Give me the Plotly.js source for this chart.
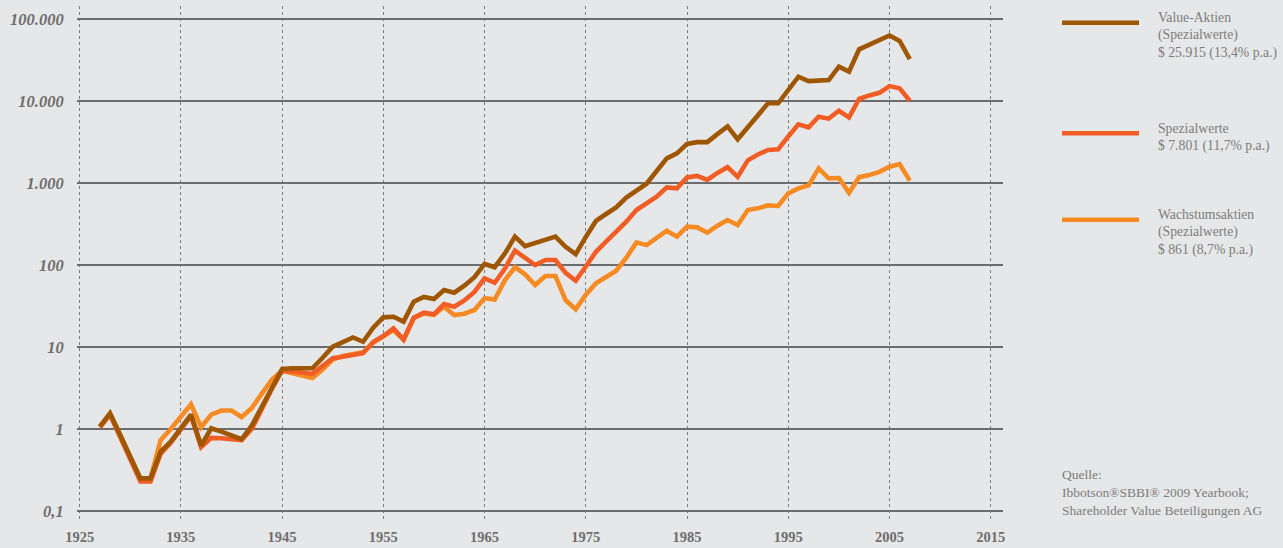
<!DOCTYPE html>
<html>
<head>
<meta charset="utf-8">
<script src="https://cdn.plot.ly/plotly-3.0.1.min.js"></script>
<style>
html,body{margin:0;padding:0;background:#e6e7e8;}
#chart{width:1283px;height:548px;}
</style>
</head>
<body>
<div id="chart"></div>
<script>
// ---- data ----
const years = [1927,1928,1929,1930,1931,1932,1933,1934,1935,1936,1937,1938,1939,1940,1941,1942,1943,1944,1945,1946,
  1947,1948,1949,1950,1951,1952,1953,1954,1955,1956,1957,1958,1959,1960,1961,1962,1963,1964,1965,1966,
  1967,1968,1969,1970,1971,1972,1973,1974,1975,1976,1977,1978,1979,1980,1981,1982,1983,1984,1985,1986,
  1987,1988,1989,1990,1991,1992,1993,1994,1995,1996,1997,1998,1999,2000,2001,2002,2003,2004,2005,2006,2007];

const valueAktien = [1.07,1.55,0.85,0.45,0.25,0.25,0.53,0.70,1.05,1.50,0.63,1.02,0.93,0.83,0.75,1.10,1.90,3.20,5.40,5.50,
  5.50,5.50,7.4,10.1,11.5,13.1,11.6,17.2,23.0,23.4,20.4,35.7,40.8,38.5,49.6,46.0,56,71,103,94,
  138,222,170,185,200,222,167,136,220,345,419,505,665,805,980,1400,2000,2300,3000,3150,
  3150,3950,4900,3410,4780,6650,9380,9380,13400,19800,17500,17900,18000,26200,22800,42700,48200,54400,63000,54000,32500];

const spezialwerte = [1.05,1.50,0.80,0.42,0.23,0.23,0.50,0.68,1.00,1.45,0.60,0.78,0.77,0.75,0.73,1.00,1.80,3.10,5.15,5.05,
  4.90,4.70,5.8,7.3,7.6,8.1,8.4,11.5,13.6,16.9,12.3,22.8,26.2,25.0,33.5,31.0,37.0,47.0,68.8,60.8,
  90,150,123,100,115,115,80.5,64.4,96,145,193,255,338,469,570,681,885,861,1170,1220,
  1090,1330,1560,1190,1890,2230,2530,2580,3700,5190,4780,6440,6100,7620,6320,10600,11700,12600,15200,14300,10100];

const wachstum = [1.07,1.55,0.84,0.45,0.25,0.25,0.73,1.00,1.40,2.00,1.05,1.50,1.68,1.68,1.40,1.80,2.70,4.00,5.15,4.80,
  4.50,4.20,5.3,7.0,7.8,8.3,8.6,11.3,13.4,16.1,12.3,22.4,25.7,24.7,31.0,24.6,25.5,28.3,39.5,37.9,
  65,94,77,57,73.4,73.4,37.4,28.8,43.5,59.8,71.4,85.3,123,189,175,211,262,222,294,288,
  248,302,354,307,469,491,534,525,749,861,936,1510,1140,1150,760,1180,1250,1370,1580,1700,1070];

const seriesNames = ['Value-Aktien (Spezialwerte)', 'Spezialwerte', 'Wachstumsaktien (Spezialwerte)'];
const yTickVals = [0.1, 1, 10, 100, 1000, 10000, 100000];
const yTickText = ['0,1', '1', '10', '100', '1.000', '10.000', '100.000'];
const xTickVals = [1925, 1935, 1945, 1955, 1965, 1975, 1985, 1995, 2005, 2015];
const xTickText = ['1925', '1935', '1945', '1955', '1965', '1975', '1985', '1995', '2005', '2015'];

const legendTexts = [
  ['Value-Aktien', '(Spezialwerte)', '$ 25.915 (13,4% p.a.)'],
  ['Spezialwerte', '$ 7.801 (11,7% p.a.)'],
  ['Wachstumsaktien', '(Spezialwerte)', '$ 861 (8,7% p.a.)']
];
const sourceTexts = ['Quelle:', 'Ibbotson®SBBI® 2009 Yearbook;', 'Shareholder Value Beteiligungen AG'];

// ---- styling ----
const W = 1283, H = 548;
const M = {l: 77, r: 280, t: 6, b: 26};
const PW = W - M.l - M.r, PH = H - M.t - M.b;
const BG = '#e6e7e8';
const colValue = '#9f5600', colSpez = '#f15d25', colWachs = '#f68a23';
const textGray = '#7c7c7c';
const serif = 'Liberation Serif, Times New Roman, serif';

function px2x(px) { return (px - M.l) / PW; }
function py2y(py) { return (H - M.b - py) / PH; }

const lineW = 4.6;
const traces = [
  {x: years, y: wachstum, name: seriesNames[2], type: 'scatter', mode: 'lines',
   line: {color: colWachs, width: lineW}},
  {x: years, y: spezialwerte, name: seriesNames[1], type: 'scatter', mode: 'lines',
   line: {color: colSpez, width: lineW}},
  {x: years, y: valueAktien, name: seriesNames[0], type: 'scatter', mode: 'lines',
   line: {color: colValue, width: lineW}}
];

// legend (drawn as shapes + text)
const legendColors = [colValue, colSpez, colWachs];
const legendLineY = [22.7, 133.3, 219.7];
const shapes = [];
const annotations = [];
legendTexts.forEach((lines, i) => {
  shapes.push({type: 'line', xref: 'paper', yref: 'paper',
    x0: px2x(1062), x1: px2x(1139), y0: py2y(legendLineY[i]), y1: py2y(legendLineY[i]),
    line: {color: legendColors[i], width: 4.5}});
  lines.forEach((t, j) => {
    annotations.push({xref: 'paper', yref: 'paper', x: px2x(1156), y: py2y(legendLineY[i] - 5 + j * 17.7),
      xanchor: 'left', yanchor: 'middle', showarrow: false, text: t,
      font: {family: serif, size: 13.7, color: textGray}});
  });
});
sourceTexts.forEach((t, j) => {
  annotations.push({xref: 'paper', yref: 'paper', x: px2x(1060), y: py2y(474 + j * 18.3),
    xanchor: 'left', yanchor: 'middle', showarrow: false, text: t,
    font: {family: serif, size: 13.5, color: textGray}});
});

const layout = {
  width: W, height: H,
  margin: M,
  paper_bgcolor: BG, plot_bgcolor: BG,
  showlegend: false,
  hovermode: false,
  xaxis: {
    type: 'linear',
    range: [1924.74, 2016.21],
    tickvals: xTickVals, ticktext: xTickText,
    showgrid: true, gridcolor: '#7d7d7d', gridwidth: 1, griddash: '3px,3px',
    zeroline: false, showline: false,
    ticks: 'outside', ticklen: 2, tickcolor: 'rgba(0,0,0,0)',
    tickfont: {family: serif, size: 14.5, color: '#6e6e6e', weight: 'bold'}
  },
  yaxis: {
    type: 'log',
    range: [-1.134, 5.159],
    tickvals: yTickVals, ticktext: yTickText,
    showgrid: true, gridcolor: '#6c6c6c', gridwidth: 2,
    zeroline: false, showline: false,
    ticks: 'outside', ticklen: 9, tickcolor: 'rgba(0,0,0,0)',
    tickfont: {family: serif, size: 16.5, color: '#6e6e6e', weight: 'bold', style: 'italic'}
  },
  shapes: shapes,
  annotations: annotations
};

Plotly.newPlot('chart', traces, layout, {staticPlot: true, displayModeBar: false});
</script>
</body>
</html>
